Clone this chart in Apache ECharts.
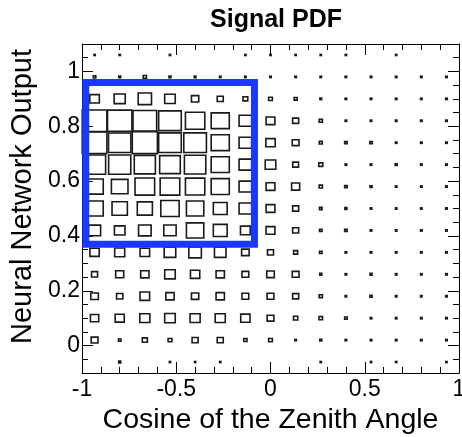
<!DOCTYPE html>
<html>
<head>
<meta charset="utf-8">
<script src="https://cdn.jsdelivr.net/npm/echarts@6/dist/echarts.min.js"></script>
<style>
  html, body { margin: 0; padding: 0; background: #ffffff; }
  #chart { width: 462px; height: 437px; }
</style>
</head>
<body>
<div id="chart"></div>
<script>
// Axis ranges and labels
const titleText = 'Signal PDF';
const xTitle = 'Cosine of the Zenith Angle';
const yTitle = 'Neural Network Output';
const xRange = [-1, 1];
const yRange = [-0.1, 1.1];
const xBins = 15;
const yBins = 15;
const xTickValues = [-1, -0.5, 0, 0.5, 1];
const yTickValues = [0, 0.2, 0.4, 0.6, 0.8, 1];

// Relative bin contents (box side scales with content), one row per
// y bin from the bottom (-0.10) to the top (1.10), x bins left to right.
const row00 = [0, .08, 0, .05, .05, .05, 0, 0, 0, .05, 0, .05, .05, 0, .05];
const row01 = [.27, .10, .20, .15, .24, .24, .13, .15, .06, .08, .06, .06, .06, .06, .06];
const row02 = [.33, .36, .40, .42, .40, .40, .37, .27, .17, .14, .10, .06, .06, .06, .06];
const row03 = [.30, .25, .38, .33, .29, .33, .27, .27, .24, .13, .06, .08, .06, .06, .06];
const row04 = [.24, .32, .33, .42, .37, .33, .27, .30, .27, .08, .06, .08, .06, .06, .06];
const row05 = [.37, .40, .38, .46, .50, .46, .30, .24, .16, .10, .06, .06, .06, .06, .06];
const row06 = [.48, .42, .50, .49, .69, .55, .39, .35, .24, .10, .10, .06, .06, .06, .06];
const row07 = [.69, .61, .60, .73, .69, .55, .50, .35, .24, .10, .08, .06, .06, .06, .06];
const row08 = [.69, .66, .78, .78, .77, .72, .50, .35, .32, .13, .10, .08, .06, .06, .06];
const row09 = [.88, .88, .84, .82, .85, .72, .50, .42, .23, .16, .06, .06, .08, .06, .06];
const row10 = [.98, .89, 1.0, .90, .90, .72, .50, .37, .27, .12, .10, .10, .06, .06, .06];
const row11 = [.98, .97, .94, .90, .77, .72, .50, .35, .24, .13, .06, .06, .06, .06, .06];
const row12 = [.38, .44, .53, .42, .29, .24, .19, .15, .12, .07, .06, .06, .06, .06, .06];
const row13 = [.10, .08, .13, .08, .07, .06, .06, .06, .06, .06, .06, .06, .06, .06, .06];
const row14 = [.05, .05, 0, .05, 0, 0, .05, .05, .05, .05, .05, 0, .05, 0, 0];

// Selection window drawn on top of the distribution
const cutX = [-0.98, -0.085];
const cutY = [0.37, 0.96];

const rows = [row00, row01, row02, row03, row04, row05, row06, row07,
              row08, row09, row10, row11, row12, row13, row14];
const binW = (xRange[1] - xRange[0]) / xBins;
const binH = (yRange[1] - yRange[0]) / yBins;

const cells = [];
rows.forEach((row, j) => {
  row.forEach((v, i) => {
    if (v > 0) {
      cells.push([xRange[0] + (i + 0.5) * binW, yRange[0] + (j + 0.5) * binH, v]);
    }
  });
});

const font = 'Liberation Sans, Arial, Helvetica, sans-serif';
const black = '#000000';

function xAxisDef(pos, showLabels) {
  return {
    type: 'value', position: pos, min: xRange[0], max: xRange[1], interval: 0.5,
    axisLine: { show: true, onZero: false, lineStyle: { color: black, width: 1 } },
    axisTick: { show: true, inside: true, length: 11, lineStyle: { color: black, width: 1 } },
    minorTick: { show: true, splitNumber: 5, length: 6, lineStyle: { color: black, width: 1 } },
    splitLine: { show: false }, minorSplitLine: { show: false },
    axisLabel: {
      show: showLabels, color: black, fontSize: 23, fontFamily: font, margin: 5,
      showMinLabel: true, showMaxLabel: true, hideOverlap: false,
      formatter: v => String(v)
    },
    name: showLabels ? xTitle : '', nameLocation: 'middle', nameGap: 33,
    nameTextStyle: { color: black, fontSize: 28.5, fontFamily: font }
  };
}

function yMinorAxis(pos) {
  return {
    type: 'value', position: pos, min: yRange[0], max: yRange[1], interval: 0.05,
    axisLine: { show: true, onZero: false, lineStyle: { color: black, width: 1 } },
    axisTick: { show: true, inside: true, length: 6, lineStyle: { color: black, width: 1 } },
    axisLabel: { show: false }, splitLine: { show: false }
  };
}

function yMajorAxis(pos, showLabels) {
  return {
    type: 'value', position: pos, min: yRange[0], max: yRange[1], interval: 0.05,
    axisLine: { show: false, onZero: false },
    axisTick: { show: true, inside: true, length: 11, customValues: yTickValues,
                lineStyle: { color: black, width: 1 } },
    axisLabel: {
      show: showLabels, customValues: yTickValues, color: black, fontSize: 23,
      fontFamily: font, margin: 2, formatter: v => String(Math.round(v * 10) / 10)
    },
    splitLine: { show: false },
    name: showLabels ? yTitle : '', nameLocation: 'middle', nameGap: 37, nameRotate: 90,
    nameTextStyle: { color: black, fontSize: 29, fontFamily: font, padding: [0, 0, 0, 24] }
  };
}

const chart = echarts.init(document.getElementById('chart'), null, { renderer: 'canvas' });
chart.setOption({
  backgroundColor: '#ffffff',
  animation: false,
  title: {
    text: titleText, left: 271, top: 3, textAlign: 'center',
    textStyle: { color: black, fontSize: 25, fontWeight: 'bold', fontFamily: font }
  },
  grid: { left: 82, right: 3, top: 44, bottom: 64, containLabel: false, outerBoundsMode: 'none' },
  xAxis: [xAxisDef('bottom', true), xAxisDef('top', false)],
  yAxis: [yMinorAxis('left'), yMajorAxis('left', true), yMinorAxis('right'), yMajorAxis('right', false)],
  series: [
    {
      type: 'custom', xAxisIndex: 0, yAxisIndex: 0, data: cells, z: 2,
      renderItem(params, api) {
        const cx = api.value(0), cy = api.value(1), f = api.value(2);
        const hw = f * binW / 2, hh = f * binH / 2;
        const p1 = api.coord([cx - hw, cy + hh]);
        const p2 = api.coord([cx + hw, cy - hh]);
        return {
          type: 'rect',
          shape: { x: p1[0], y: p1[1], width: p2[0] - p1[0], height: p2[1] - p1[1] },
          style: { fill: 'none', stroke: '#1a1a1a', lineWidth: 1.6 }
        };
      }
    },
    {
      type: 'custom', xAxisIndex: 0, yAxisIndex: 0, z: 5,
      data: [[cutX[0], cutY[0], cutX[1], cutY[1]]],
      renderItem(params, api) {
        const a = api.coord([api.value(0), api.value(3)]);
        const b = api.coord([api.value(2), api.value(1)]);
        return {
          type: 'rect',
          shape: { x: a[0], y: a[1], width: b[0] - a[0], height: b[1] - a[1] },
          style: { fill: 'none', stroke: '#1a38ff', lineWidth: 7, lineJoin: 'miter' }
        };
      }
    }
  ]
});
</script>
</body>
</html>
